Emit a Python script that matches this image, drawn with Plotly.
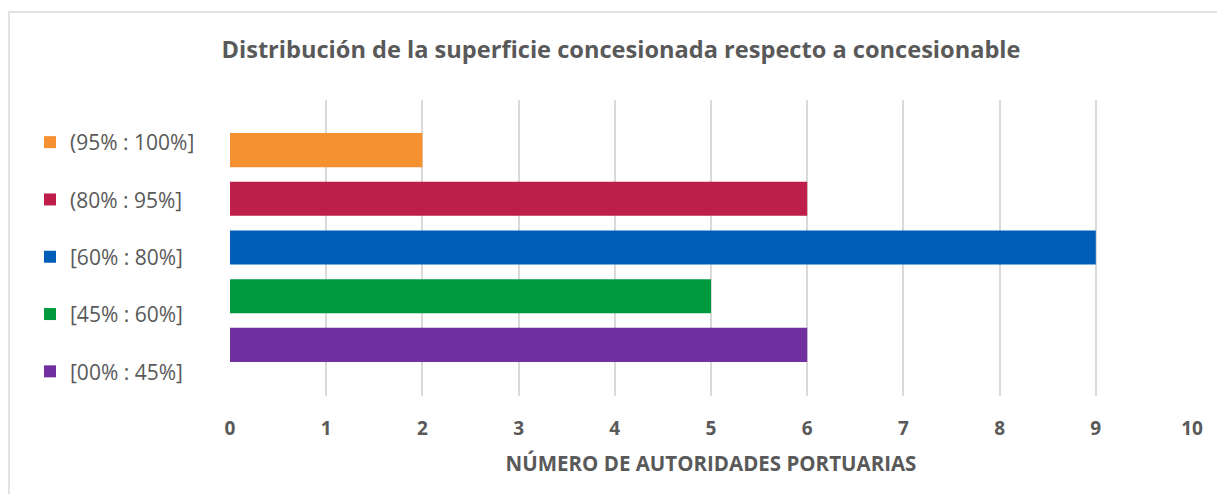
import plotly.graph_objects as go

categories = ["[00% : 45%]", "[45% : 60%]", "[60% : 80%]", "(80% : 95%]", "(95% : 100%]"]
values = [6, 5, 9, 6, 2]
colors = ["#7030A0", "#009A3E", "#005EB8", "#BE1E4A", "#F59131"]
x_ticks = [0, 1, 2, 3, 4, 5, 6, 7, 8, 9, 10]

title_text = "Distribución de la superficie concesionada respecto a concesionable"
x_title = "NÚMERO DE AUTORIDADES PORTUARIAS"

FONT = "Open Sans"
GREY = "#595959"

fig = go.Figure()
# add from top category to bottom so the legend lists them top-down
for cat, val, col in reversed(list(zip(categories, values, colors))):
    fig.add_trace(go.Bar(
        y=[cat], x=[val], orientation="h", name=cat,
        marker=dict(color=col, line=dict(width=0)),
        width=0.7, legendgroup=cat, showlegend=True,
    ))

# page offset (body margin) of 8px
OFF = 8
W, H = 1209, 486
L, R, T, B = 230 - OFF, 1217 - 1192, 100 - OFF, 486 - (396 - OFF)
pw, ph = W - L - R, H - T - B

def px_x(p):
    return (p - OFF - L) / pw

def px_y(p):
    return 1 - (p - OFF - T) / ph

fig.update_layout(
    width=W, height=H,
    margin=dict(l=L, r=R, t=T, b=B, pad=0),
    paper_bgcolor="white", plot_bgcolor="white",
    barmode="overlay",
    font=dict(family=FONT, color=GREY),
    title=dict(text="<b>" + title_text + "</b>", x=(621 - OFF) / W, xref="container", xanchor="center",
               y=1 - (50 - OFF) / H, yanchor="middle", font=dict(size=23.6, color=GREY, family=FONT)),
    xaxis=dict(range=[0, 10], tickvals=x_ticks, ticktext=[f"<b>{t}</b>" for t in x_ticks],
               showgrid=True, gridcolor="#D9D9D9", gridwidth=1.5, zeroline=False,
               showline=False, ticks="", ticklabelstandoff=19,
               tickfont=dict(size=19, color=GREY, family=FONT),
               title=dict(text="<b>" + x_title + "</b>", font=dict(size=20.5, color=GREY, family=FONT), standoff=16),
               fixedrange=True),
    yaxis=dict(type="category", categoryorder="array", categoryarray=categories,
               range=[-1.05, 5.03], showticklabels=False, showgrid=False, zeroline=False,
               showline=False, ticks="", fixedrange=True),
    legend=dict(x=px_x(30), y=px_y(122), xanchor="left", yanchor="top",
                traceorder="grouped", tracegroupgap=27,
                font=dict(size=21, color=GREY, family=FONT),
                itemwidth=30, bgcolor="rgba(0,0,0,0)"),
    showlegend=True,
    shapes=[dict(type="rect", xref="paper", yref="paper",
                 x0=px_x(9), x1=px_x(1300), y0=px_y(600), y1=px_y(12),
                 line=dict(color="#D9D9D9", width=1.5), fillcolor="rgba(0,0,0,0)", layer="below")],
)

fig.write_html("out.html")
